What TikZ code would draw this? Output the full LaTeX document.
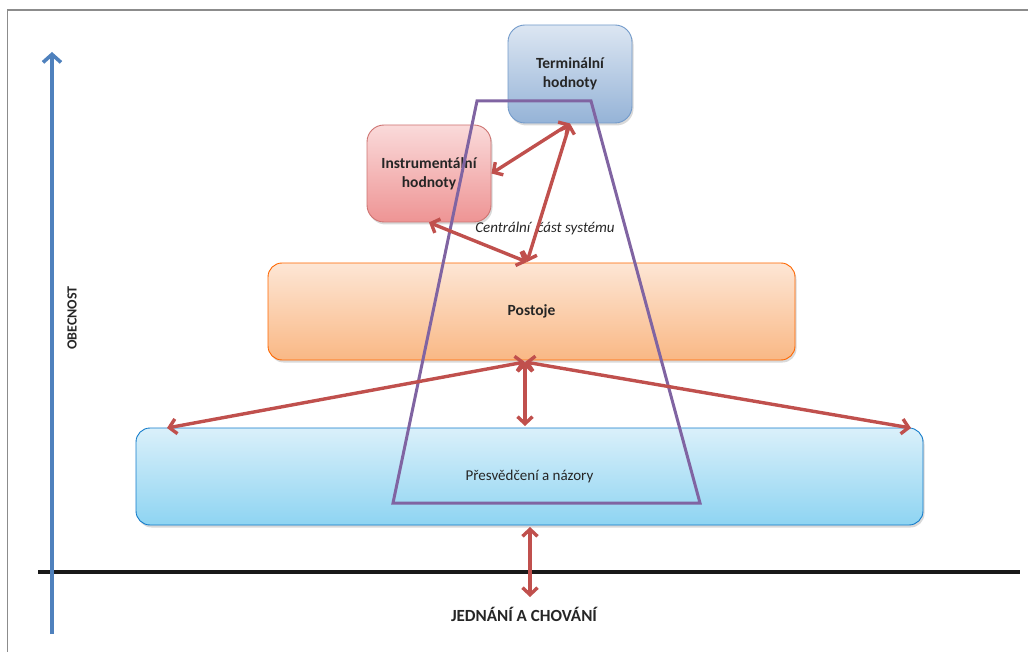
\documentclass[tikz,border=0pt]{standalone}
\usepackage{fontspec}
\setmainfont{Carlito}
\usetikzlibrary{arrows.meta,shadows,calc}
\definecolor{frameg}{HTML}{8C8C8C}
\definecolor{redarr}{HTML}{C0504D}
\definecolor{purp}{HTML}{8064A2}
\definecolor{bluearr}{HTML}{4F81BD}
\definecolor{termtop}{HTML}{DCE6F2}
\definecolor{termbot}{HTML}{95B3D7}
\definecolor{instrtop}{HTML}{FADADA}
\definecolor{instrbot}{HTML}{EE9494}
\definecolor{posttop}{HTML}{FDE6D5}
\definecolor{postbot}{HTML}{F9B885}
\definecolor{beltop}{HTML}{DAF0FA}
\definecolor{belbot}{HTML}{8ED4F2}
\tikzset{
  box/.style={draw, line width=0.9pt, rounded corners=14pt, align=center, inner sep=0pt,
     font=\fontsize{15.5}{19}\selectfont\bfseries, text=black!85,
     drop shadow={shadow xshift=1.5pt, shadow yshift=-2.5pt, opacity=0.3}},
  termbox/.style={box, draw=bluearr!80, top color=termtop, bottom color=termbot,
     minimum width=124pt, minimum height=98pt, rounded corners=17pt},
  instrbox/.style={box, draw=redarr!80, top color=instrtop, bottom color=instrbot,
     minimum width=124pt, minimum height=97pt, rounded corners=17pt},
  postbox/.style={box, draw=orange!80!red, top color=posttop, bottom color=postbot,
     minimum width=527pt, minimum height=97pt},
  belbox/.style={box, draw=cyan!60!blue, top color=beltop, bottom color=belbot,
     minimum width=787pt, minimum height=97pt, font=\fontsize{15}{18}\selectfont\mdseries},
  rarrow/.style={draw=redarr, line width=3.4pt, {Straight Barb[length=7pt,width=15pt]}-{Straight Barb[length=7pt,width=15pt]}},
}
\begin{document}
\begin{tikzpicture}[x=1pt,y=-1pt]
\useasboundingbox (0,0) rectangle (1028,652);
% frame
\draw[frameg, line width=1.2pt] (7.5,652) -- (7.5,10) -- (1028,10);
% baseline
\coordinate (bl) at (38,572);
\coordinate (br) at (1020,572);
\draw[black!90, line width=3.8pt] (bl) -- (br);
% vertical axis
\coordinate (ab) at (52,634);
\coordinate (at) at (52,52);
\draw[bluearr, line width=3.6pt, -{Straight Barb[length=8pt,width=18pt]}] (ab) -- (at);
\node[rotate=90, font=\fontsize{14}{16}\selectfont\bfseries, text=black!85] (obec) at (72,318) {OBECNOST};
% boxes
\node[termbox] (term) at (570,74) {Terminální\\hodnoty};
\node[instrbox] (instr) at (429,173.5) {Instrumentální\\hodnoty};
\node[postbox] (post) at (531.5,311.5) {Postoje};
\node[belbox] (bel) at (529.5,476.5) {Přesvědčení a názory};
% trapezoid
\coordinate (t1) at (477,101);
\coordinate (t2) at (591,101);
\coordinate (t3) at (700,503);
\coordinate (t4) at (393,503);
\draw[purp, line width=3pt, line join=miter] (t1) -- (t2) -- (t3) -- (t4) -- cycle;
% label
\node[font=\fontsize{15}{18}\selectfont\itshape, text=black!85] (cent) at (545,229) {Centrální~ část systému};
% connector coordinates
\coordinate (pt) at (527,262);
\coordinate (pb) at (525,362);
\coordinate (bL) at (167,428);
\coordinate (bR) at (911,428);
\coordinate (bT) at (525,426);
\coordinate (bB) at (530,527);
\coordinate (jT) at (530,597);
% arrows
\draw[rarrow] (instr.east) -- (term.south);
\draw[rarrow] (term.south) -- (pt);
\draw[rarrow] (instr.south) -- (pt);
\draw[rarrow] (pb) -- (bL);
\draw[rarrow] (pb) -- (bR);
\draw[rarrow] (pb) -- (bT);
\draw[rarrow] (bB) -- (jT);
% bottom label
\node[font=\fontsize{17}{20}\selectfont\bfseries, text=black!85] (jed) at (524,614) {JEDNÁNÍ A CHOVÁNÍ};
\end{tikzpicture}
\end{document}
